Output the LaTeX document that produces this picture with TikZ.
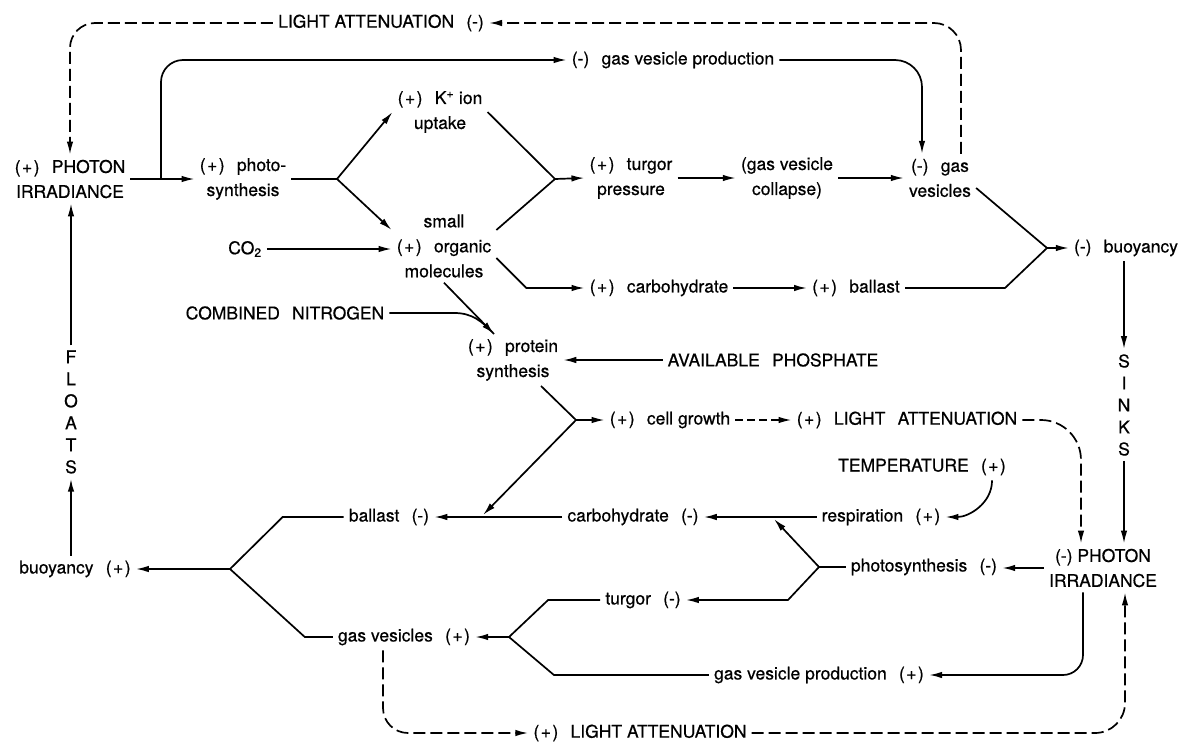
\documentclass[tikz,border=0pt]{standalone}
\usepackage{fontspec}
\setmainfont{TeX Gyre Heros}[FakeBold=0.6]
\usetikzlibrary{arrows.meta}
\newcommand{\pluslbl}{(\kern1.5pt+\kern1.5pt)}
\newcommand{\minuslbl}{(-)}
\newcommand{\wgap}{\hspace{0.7em}}

\begin{document}
\begin{tikzpicture}[
    x=1pt, y=-1pt,
    font=\fontsize{17.5}{25}\selectfont,
    lbl/.style={align=center, inner sep=5pt},
    letters/.style={align=center, inner sep=5pt, font=\fontsize{17.5}{22}\selectfont},
    line/.style={line width=1.7pt},
    arr/.style={line, -{Latex[length=13pt,width=6.5pt]}},
    dasharr/.style={arr, dash pattern=on 12pt off 5pt},
]
\useasboundingbox (0,0) rectangle (1184,742);

% upper half: more light
\node[lbl] (photonP) at (70,179) {\pluslbl\wgap PHOTON\\IRRADIANCE};
\node[lbl] (photoP) at (243,179) {\pluslbl\wgap photo-\\synthesis};
\node[lbl] (kionP) at (440,112) {\pluslbl\wgap K\textsuperscript{+} ion\\uptake};
\node[lbl] (orgP) at (444,246) {small\\\pluslbl\wgap organic\\molecules};
\node[lbl] (co2) at (245,249) {CO\textsubscript{2}};
\node[lbl] (turgorP) at (631,178) {\pluslbl\wgap turgor\\pressure};
\node[lbl] (collapse) at (787,178) {(gas vesicle\\collapse)};
\node[lbl] (gasvM) at (940,178) {\minuslbl\wgap gas\\vesicles};
\node[lbl] (gvprodM) at (673,60) {\minuslbl\wgap gas vesicle production};
\node[lbl] (lightM) at (381,23) {LIGHT ATTENUATION\wgap\minuslbl};
\node[lbl] (carbP) at (659,288) {\pluslbl\wgap carbohydrate};
\node[lbl] (ballastP) at (856,288) {\pluslbl\wgap ballast};
\node[lbl] (buoyM) at (1126,248) {\minuslbl\wgap buoyancy};
\node[lbl] (cn) at (285,313) {COMBINED\wgap NITROGEN};
\node[lbl] (proteinP) at (513,360) {\pluslbl\wgap protein\\synthesis};
\node[lbl] (phos) at (773,360) {AVAILABLE\wgap PHOSPHATE};
\node[lbl] (cellP) at (670,420) {\pluslbl\wgap cell growth};
\node[lbl] (lightP) at (907,420) {\pluslbl\wgap LIGHT\wgap ATTENUATION};
\node[letters] (sinks) at (1124,405) {S\\I\\N\\K\\S};

% lower half: less light
\node[lbl] (temp) at (922,467) {TEMPERATURE\wgap\pluslbl};
\node[lbl] (resp) at (881,517) {respiration\wgap\pluslbl};
\node[lbl] (carbM) at (633,517) {carbohydrate\wgap\minuslbl};
\node[lbl] (ballastM) at (389,517) {ballast\wgap\minuslbl};
\node[lbl] (photosynM) at (924,567) {photosynthesis\wgap\minuslbl};
\node[lbl] (photonM) at (1103,568) {\minuslbl\ PHOTON\\IRRADIANCE};
\node[lbl] (turgorM) at (643,600) {turgor\wgap\minuslbl};
\node[lbl] (buoyP) at (75,569) {buoyancy\wgap\pluslbl};
\node[lbl] (gasvP) at (404,637) {gas vesicles\wgap\pluslbl};
\node[lbl] (gvprodP) at (819,675) {gas vesicle production\wgap\pluslbl};
\node[lbl] (lightPb) at (640,733) {\pluslbl\wgap LIGHT ATTENUATION};
\node[letters] (floats) at (71,412) {F\\L\\O\\A\\T\\S};

% fork and junction points
\coordinate (brA) at (161,179);
\coordinate (fk1) at (337,179);
\coordinate (mg1) at (555,179);
\coordinate (mg2) at (1047,248);
\coordinate (fk2) at (576,420);
\coordinate (hit1) at (483,515);
\coordinate (fk3) at (819,567);
\coordinate (hit2) at (774,519);
\coordinate (fk4) at (509,637);
\coordinate (fk5) at (230,569);

% top loops
\draw[arr] (photonP.east) -- (photoP.west);
\draw[arr, rounded corners=22pt] (brA) |- (gvprodM.west);
\draw[arr, rounded corners=27pt] (gvprodM.east) -| ([xshift=-18pt]gasvM.north);
\draw[dasharr, rounded corners=27pt] ([xshift=21pt]gasvM.north) |- (lightM.east);
\draw[dasharr, rounded corners=25pt] (lightM.west) -| (photonP.north);

% photosynthesis to buoyancy
\draw[line] (photoP.east) -- (fk1);
\draw[arr] (fk1) -- (kionP.west);
\draw[arr] (fk1) -- ([yshift=16pt]orgP.west);
\draw[line] (kionP.east) -- (mg1);
\draw[line] ([yshift=16pt]orgP.east) -- (mg1);
\draw[arr] (mg1) -- (turgorP.west);
\draw[arr] (turgorP.east) -- (collapse.west);
\draw[arr] (collapse.east) -- (gasvM.west);
\draw[line] ([yshift=-10pt]gasvM.east) -- (mg2);
\draw[line] (ballastP.east) -- ++(100,0) -- (mg2);
\draw[arr] (mg2) -- (buoyM.west);
\draw[arr] (co2.east) -- (co2.east -| orgP.west);
\draw[arr] ([yshift=-12pt]orgP.east) -- ++(30,30) -- (carbP.west);
\draw[arr] (carbP.east) -- (ballastP.west);

% protein and growth
\draw[line] (cn.east) -- ++(65,0) to[out=0, in=133] ([xshift=-19pt]proteinP.north);
\draw[arr] (orgP.south) -- ([xshift=-19pt]proteinP.north);
\draw[arr] (phos.west) -- (phos.west -| proteinP.east);
\draw[line] ([xshift=28pt]proteinP.south) -- (fk2);
\draw[arr] (fk2) -- (cellP.west);
\draw[arr] (fk2) -- (hit1);
\draw[arr, dash pattern=on 8pt off 4pt] (cellP.east) -- (lightP.west);
\draw[dasharr, rounded corners=40pt] (lightP.east) -| ([xshift=-22pt]photonM.north);
\draw[arr] (sinks.north |- buoyM.south) -- (sinks.north);
\draw[arr] (sinks.south) -- (sinks.south |- photonM.north);

% less light: back to the top
\draw[arr] ([xshift=-19pt]temp.south east) to[out=-90, in=0] (resp.east);
\draw[arr] (resp.west) -- (carbM.east);
\draw[arr] (carbM.west) -- (ballastM.east);
\draw[arr] (photonM.west) -- (photonM.west -| photosynM.east);
\draw[line] (photosynM.west) -- (fk3);
\draw[arr] (fk3) -- (hit2);
\draw[arr] (fk3) -- ++(-31,33) -- (turgorM.east);
\draw[arr, rounded corners=20pt] ([xshift=-20pt]photonM.south) |- (gvprodP.east);
\draw[dasharr, rounded corners=30pt] (lightPb.east) -| ([xshift=22pt]photonM.south);
\draw[line] (turgorM.west) -- ++(-52,0) -- (fk4);
\draw[line] (gvprodP.west) -- ++(-155,0) -- (fk4);
\draw[arr] (fk4) -- (gasvP.east);
\draw[dasharr, rounded corners=25pt] ([xshift=-21pt]gasvP.south) |- (lightPb.west);
\draw[line] (ballastM.west) -- ++(-61,0) -- (fk5);
\draw[line] (gasvP.west) -- ++(-28,0) -- (fk5);
\draw[arr] (fk5) -- (buoyP.east);
\draw[arr] (buoyP.north -| floats.south) -- (floats.south);
\draw[arr] (floats.north) -- (floats.north |- photonP.south);

\end{tikzpicture}
\end{document}
